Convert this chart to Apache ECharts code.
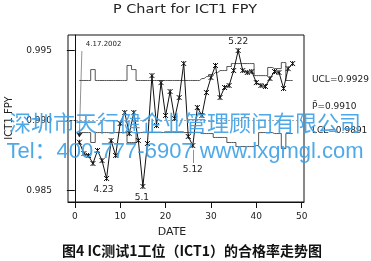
<!DOCTYPE html>
<html><head><meta charset="utf-8">
<script src="https://cdn.jsdelivr.net/npm/echarts@6/dist/echarts.min.js"></script>
<style>html,body{margin:0;padding:0;background:#fff}#c{width:371px;height:261px}</style>
</head><body><div id="c"></div>
<script>
// ---- data ----
const days = [1,2,3,4,5,6,7,8,9,10,11,12,13,14,15,16,17,18,19,20,21,22,23,24,25,26,27,28,29,30,31,32,33,34,35,36,37,38,39,40,41,42,43,44,45,46,47,48];
const fpy = [0.98845,0.98764,0.98750,0.98693,0.98786,0.98714,0.98586,0.98857,0.98750,0.98979,
             0.99057,0.98907,0.99057,0.98857,0.98529,0.98836,0.99321,0.98964,0.99271,0.99036,
             0.99207,0.99014,0.99164,0.99407,0.98886,0.98821,0.99093,0.99036,0.99200,0.99307,
             0.99393,0.99164,0.99236,0.99250,0.99357,0.99500,0.99357,0.99343,0.99350,0.99271,
             0.99250,0.99243,0.99300,0.99350,0.99343,0.99229,0.99371,0.99407];
const ucl = [0.99286,0.99286,0.99286,0.99364,0.99286,0.99286,0.99286,0.99286,0.99286,0.99286,
             0.99286,0.99393,0.99364,0.99286,0.99286,0.99286,0.99286,0.99286,0.99286,0.99286,
             0.99286,0.99286,0.99286,0.99286,0.99286,0.99286,0.99286,0.99300,0.99314,0.99329,
             0.99343,0.99357,0.99357,0.99386,0.99407,0.99407,0.99407,0.99407,0.99407,0.99321,
             0.99321,0.99321,0.99379,0.99371,0.99371,0.99414,0.99286,0.99286];
const lcl = [0.98914,0.98914,0.98914,0.98843,0.98914,0.98914,0.98914,0.98914,0.98914,0.98914,
             0.98914,0.98843,0.98843,0.98914,0.98914,0.98914,0.98914,0.98914,0.98914,0.98914,
             0.98914,0.98914,0.98914,0.98914,0.98914,0.98914,0.98914,0.98907,0.98907,0.98907,
             0.98879,0.98879,0.98879,0.98843,0.98843,0.98814,0.98814,0.98814,0.98814,0.98821,
             0.98914,0.98914,0.98914,0.98907,0.98907,0.98800,0.98907,0.98907];
const pBar = 0.9910;
const uclValue = 0.9929;
const lclValue = 0.9891;
const yTicks = [0.985, 0.990, 0.995];
const xTicks = [0, 10, 20, 30, 40, 50];
const pointLabels = { 7: '4.23', 15: '5.1', 26: '5.12', 36: '5.22' };
const startDate = '4.17.2002';
const titleText = 'P Chart for ICT1 FPY';
const xName = 'DATE';
const yName = 'ICT1 FPY';
const caption = '图4 IC测试1工位（ICT1）的合格率走势图';
const wm1 = '深圳市天行健企业管理顾问有限公司';
const wm2 = 'Tel：400-777-6907 www.lxgmgl.com';

// ---- chart ----
const F = 'DejaVu Sans';
const chart = echarts.init(document.getElementById('c'), null, {renderer: 'canvas'});
const labelCfg = {
  7:  {position: 'bottom', distance: 4, offset: [-3, 0]},
  15: {position: 'bottom', distance: 4, offset: [-1, 0]},
  26: {position: 'bottom', distance: 17, offset: [0, 0]},
  36: {position: 'top', distance: 1, offset: [0, 0]}
};
const fpyData = days.map((d, i) => {
  const item = {value: [d, fpy[i]]};
  if (pointLabels[d]) {
    item.label = Object.assign({show: true, formatter: pointLabels[d], fontSize: 9,
      fontFamily: F, color: '#222'}, labelCfg[d]);
  }
  return item;
});

chart.setOption({
  animation: false,
  grid: {left: 68, right: 67, top: 35, bottom: 59, show: true, borderColor: '#111', borderWidth: 1},
  xAxis: {
    type: 'value', min: -1.5, max: 50.5,
    axisLine: {show: true, onZero: false, lineStyle: {color: '#111'}},
    axisTick: {show: true, length: 6, customValues: xTicks, lineStyle: {color: '#111'}},
    axisLabel: {customValues: xTicks, margin: 10, fontSize: 9, fontFamily: F, color: '#222'},
    splitLine: {show: false}
  },
  yAxis: {
    type: 'value', min: 0.98418, max: 0.99611,
    axisLine: {show: true, lineStyle: {color: '#111'}},
    axisTick: {show: true, length: 8, customValues: yTicks, lineStyle: {color: '#111'}},
    axisLabel: {customValues: yTicks, margin: 16, fontSize: 9, fontFamily: F, color: '#222',
      formatter: v => v.toFixed(3)},
    splitLine: {show: false}
  },
  series: [
    {type: 'line', step: 'middle', data: days.map((d, i) => [d, ucl[i]]), symbol: 'none',
     lineStyle: {color: '#555', width: 1}, silent: true,
     markLine: {silent: true, symbol: 'none', label: {show: false},
       lineStyle: {color: '#aaa', width: 1, type: [2, 2]}, data: [{yAxis: pBar}]}},
    {type: 'line', step: 'middle', data: days.map((d, i) => [d, lcl[i]]), symbol: 'none',
     lineStyle: {color: '#555', width: 1}, silent: true},
    {type: 'line', data: fpyData, symbol: 'path://M0,0L10,10M10,0L0,10M5,0L5,10', symbolSize: 5,
     itemStyle: {color: '#111', borderColor: '#111', borderWidth: 1},
     lineStyle: {color: '#111', width: 1}, z: 5,
     markLine: {silent: true, label: {show: false}, symbol: ['none', 'arrow'], symbolSize: 5,
       lineStyle: {color: '#222', width: 1, type: 'dotted'},
       data: [
         [{coord: [1.55, 0.99493]}, {coord: [1.0, 0.98880]}],
         [{coord: [26, 0.98700], symbol: 'none'}, {coord: [26, 0.98790], symbol: 'none'}]
       ]}}
  ]
});

const px = (x, y) => chart.convertToPixel({gridIndex: 0}, [x, y]);
const pStart = px(1.55, 0.99493);
const gUcl = px(50.5, uclValue), gP = px(50.5, pBar), gL = px(50.5, lclValue);
const txt = (t, x, y, s, extra) => Object.assign({type: 'text', x: x, y: y, z: 100,
  style: Object.assign({text: t, fill: '#222', font: s, textAlign: 'left', textVerticalAlign: 'middle'}, extra || {})});
chart.setOption({
  graphic: [
    Object.assign(txt(titleText, 185, 10, '12px "DejaVu Sans"', {textAlign: 'center'}), {scaleX: 1.2}),
    txt(startDate, pStart[0] + 4, pStart[1] - 7, '7px "DejaVu Sans"'),
    txt('UCL=' + uclValue.toFixed(4), gUcl[0] + 8, gUcl[1], '9px "DejaVu Sans"'),
    txt('P\u0304=' + pBar.toFixed(4), gP[0] + 8, gP[1], '9px "DejaVu Sans"'),
    txt('LCL=' + lclValue.toFixed(4), gL[0] + 8, gL[1] - 2, '9px "DejaVu Sans"'),
    txt(xName, 172, 232, '11px "DejaVu Sans"', {textAlign: 'center'}),
    {type: 'text', x: 9, y: 118, rotation: Math.PI / 2, z: 100,
     style: {text: yName, fill: '#222', font: '10px "DejaVu Sans"', textAlign: 'center', textVerticalAlign: 'middle'}},
    txt(caption, 192, 251, 'bold 14px "Noto Sans CJK SC"', {textAlign: 'center', fill: '#111'}),
    txt(wm1, 185, 123, '22px "Noto Sans CJK SC"', {textAlign: 'center', fill: 'rgba(60,160,230,0.9)'}),
    txt(wm2, 185, 152, '22px "Liberation Sans", "Noto Sans CJK SC"', {textAlign: 'center', fill: 'rgba(60,160,230,0.9)'})
  ]
});
</script>
</body></html>
